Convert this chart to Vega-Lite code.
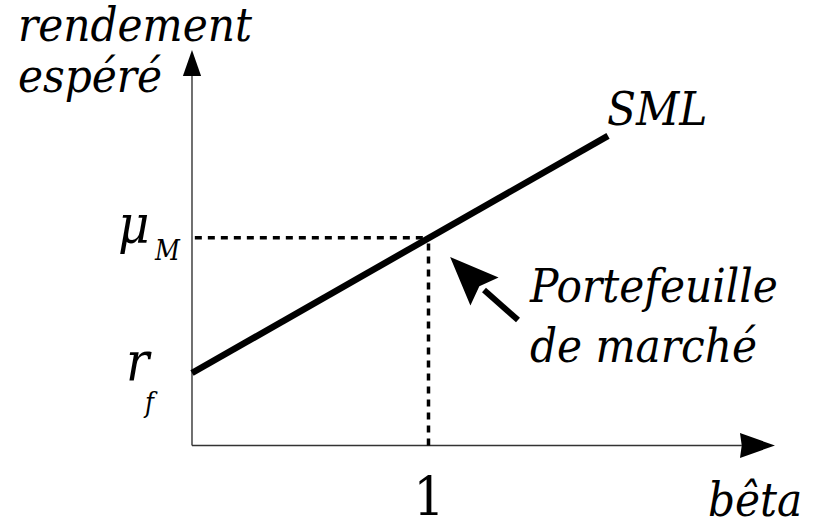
{
  "$schema": "https://vega.github.io/schema/vega-lite/v6.json",
  "width": 825,
  "height": 521,
  "padding": 0,
  "autosize": {"type": "none"},
  "background": "white",
  "config": {"view": {"stroke": null}, "text": {"font": "DejaVu Serif Condensed, DejaVu Serif"}},
  "datasets": {
    "sml": [{"beta": 0, "rendement": 0.349}, {"beta": 1.759, "rendement": 1.49}],
    "axes": [
      {"axe": "rendement", "beta": 0, "rendement": 0, "beta2": 0, "rendement2": 1.79},
      {"axe": "beta", "beta": 0, "rendement": 0, "beta2": 2.325, "rendement2": 0}
    ],
    "guides": [
      {"guide": "mu_M", "beta": 0.012, "rendement": 1, "beta2": 1, "rendement2": 1},
      {"guide": "beta=1", "beta": 1, "rendement": 0, "beta2": 1, "rendement2": 1}
    ],
    "pointeur": [{"beta": 1.3784, "rendement": 0.604, "beta2": 1.2347, "rendement2": 0.7483}],
    "tete_pointeur": [{"beta": 1.1641, "rendement": 0.8239}],
    "tete_y": [{"beta": 0, "rendement": 1.8407}],
    "tete_x": [{"beta": 2.391, "rendement": 0}],
    "labels": [
      {"label": "rendement", "beta": -0.7357, "rendement": 1.9466},
      {"label": "espéré", "beta": -0.7357, "rendement": 1.7012},
      {"label": "SML", "beta": 1.7548, "rendement": 1.5423},
      {"label": "Portefeuille", "beta": 1.4292, "rendement": 0.6906},
      {"label": "de marché", "beta": 1.4292, "rendement": 0.4018},
      {"label": "bêta", "beta": 2.1818, "rendement": -0.3393}
    ],
    "big_symbols": [
      {"label": "μ", "beta": -0.3129, "rendement": 0.9745},
      {"label": "r", "beta": -0.2791, "rendement": 0.3152}
    ],
    "subscripts": [
      {"label": "M", "beta": -0.1564, "rendement": 0.8927},
      {"label": "f", "beta": -0.1987, "rendement": 0.1612}
    ],
    "ticks": [{"label": "1", "beta": 1.0021, "rendement": -0.3393}]
  },
  "encoding": {
    "x": {"field": "beta", "type": "quantitative", "axis": null, "scale": {"domain": [-0.8118, 2.6765], "nice": false, "zero": false}},
    "y": {"field": "rendement", "type": "quantitative", "axis": null, "scale": {"domain": [-0.3633, 2.1439], "nice": false, "zero": false}}
  },
  "layer": [
    {
      "data": {"name": "axes"},
      "mark": {"type": "rule", "color": "#333333", "strokeWidth": 1.4},
      "encoding": {"x2": {"field": "beta2"}, "y2": {"field": "rendement2"}}
    },
    {
      "data": {"name": "tete_y"},
      "mark": {"type": "point", "shape": "M0,-1L0.7,1L-0.7,1Z", "size": 676, "filled": true, "color": "black", "opacity": 1, "strokeWidth": 0}
    },
    {
      "data": {"name": "tete_x"},
      "mark": {"type": "point", "shape": "M1,0L-1,0.71L-0.9,0L-1,-0.71Z", "size": 1225, "filled": true, "color": "black", "opacity": 1, "strokeWidth": 0}
    },
    {
      "data": {"name": "guides"},
      "mark": {"type": "rule", "color": "black", "strokeWidth": 3.5, "strokeDash": [7, 6]},
      "encoding": {"x2": {"field": "beta2"}, "y2": {"field": "rendement2"}}
    },
    {
      "data": {"name": "sml"},
      "mark": {"type": "line", "color": "black", "strokeWidth": 6.5, "strokeCap": "butt"}
    },
    {
      "data": {"name": "pointeur"},
      "mark": {"type": "rule", "color": "black", "strokeWidth": 6},
      "encoding": {"x2": {"field": "beta2"}, "y2": {"field": "rendement2"}}
    },
    {
      "data": {"name": "tete_pointeur"},
      "mark": {"type": "point", "shape": "M1,0L-1,0.82L-0.7,0L-1,-0.82Z", "size": 2362, "angle": 225, "filled": true, "color": "black", "opacity": 1, "strokeWidth": 0}
    },
    {
      "data": {"name": "labels"},
      "mark": {"type": "text", "fontStyle": "italic", "fontSize": 47, "align": "left", "baseline": "alphabetic", "color": "black"},
      "encoding": {"text": {"field": "label"}}
    },
    {
      "data": {"name": "big_symbols"},
      "mark": {"type": "text", "fontStyle": "italic", "fontSize": 54, "align": "left", "baseline": "alphabetic", "color": "black"},
      "encoding": {"text": {"field": "label"}}
    },
    {
      "data": {"name": "subscripts"},
      "mark": {"type": "text", "fontStyle": "italic", "fontSize": 27, "align": "left", "baseline": "alphabetic", "color": "black"},
      "encoding": {"text": {"field": "label"}}
    },
    {
      "data": {"name": "ticks"},
      "mark": {"type": "text", "fontSize": 54, "align": "center", "baseline": "alphabetic", "color": "black"},
      "encoding": {"text": {"field": "label"}}
    }
  ]
}
